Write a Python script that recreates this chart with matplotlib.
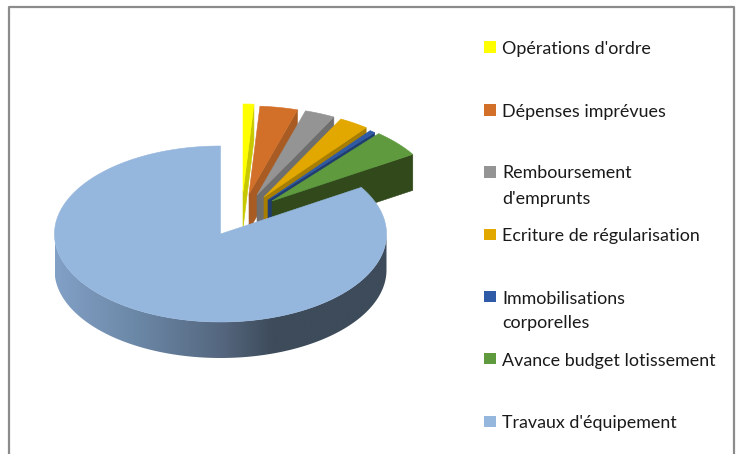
import numpy as np
import matplotlib
matplotlib.use('Agg')
from matplotlib import pyplot as plt
from matplotlib.patches import Polygon, Rectangle
from matplotlib.colors import to_rgb

labels = ["Opérations d'ordre", "Dépenses imprévues", "Remboursement\nd'emprunts",
          "Ecriture de régularisation", "Immobilisations\ncorporelles",
          "Avance budget lotissement", "Travaux d'équipement"]
values = [1.05, 3.67, 2.94, 2.89, 0.56, 5.0, 83.89]

colors = ['#FFFF00', '#D2702A', '#949494', '#E2A800', '#2F5AA5', '#5F9B3E', '#95B6DD']
walls = ['#C8C800', '#A85C24', '#6E6E6E', '#A87E00', '#1F3D70', '#32491C', '#3D4B5A']
# where each slice's point sits once pulled out of the pie (pixels)
apex_x = [243, 249, 257, 264, 268, 272, 220.5]
apex_y = [192, 194, 195, 197, 200, 201, 234]
legend_y = [46.5, 109.5, 171.5, 234, 296, 358, 421]
text_y = [[49], [112], [173, 199], [236], [299, 323], [361], [423]]

rx, ry, depth = 166, 88, 36

fig = plt.figure(figsize=(7.39, 4.54), dpi=100)
ax = fig.add_axes([0, 0, 1, 1])

# frame, open at the bottom
ax.plot([8.5, 8.5, 733.5, 733.5], [454, 6.5, 6.5, 454], color='#8C8C8C', lw=1.6)

edges = np.cumsum([0] + values) / sum(values) * 2 * np.pi


def arc(cx, cy, a, b):
    t = np.linspace(a, b, max(int(np.degrees(b - a)), 2) + 1)
    return cx + rx * np.sin(t), cy - ry * np.cos(t)


# pulled-out slices, back to front
for i in range(6):
    cx, cy = apex_x[i], apex_y[i]
    x, y = arc(cx, cy, edges[i], edges[i + 1])
    wall = [(cx, cy), (x[-1], y[-1]), (x[-1], y[-1] + depth), (cx, cy + depth)]
    ax.add_patch(Polygon(wall, fc=walls[i], ec=walls[i], lw=0.4, zorder=2 + i))
    top = [(cx, cy)] + list(zip(x, y))
    ax.add_patch(Polygon(top, fc=colors[i], ec=colors[i], lw=0.4, zorder=2 + i))

# big slice: outer side shaded left to right, then the top face
cx, cy = apex_x[6], apex_y[6]
xs = np.linspace(cx - rx, cx + rx, 200)
pos = (xs - xs[0]) / (xs[-1] - xs[0])
stops = np.array([to_rgb('#82A0C6'), to_rgb('#6B87A6'), to_rgb('#55677F'), to_rgb(walls[6]), to_rgb(walls[6])])
grad = np.stack([np.interp(pos, [0, 0.25, 0.5, 0.66, 1], stops[:, k]) for k in range(3)], axis=1)[None, :, :]
im = ax.imshow(grad, extent=(cx - rx, cx + rx, cy + ry + depth, cy - ry), aspect='auto', zorder=10)
fx, fy = arc(cx, cy, np.pi / 2, 3 * np.pi / 2)
band = Polygon(list(zip(fx, fy)) + list(zip(fx[::-1], fy[::-1] + depth)), transform=ax.transData,
               fc='none', ec='none')
ax.add_patch(band)
im.set_clip_path(band)
x, y = arc(cx, cy, edges[6], edges[7])
ax.add_patch(Polygon([(cx, cy)] + list(zip(x, y)), fc=colors[6], ec=colors[6], lw=0.4, zorder=11))

# legend
for i, lab in enumerate(labels):
    ax.add_patch(Rectangle((484, legend_y[i] - 5.5), 11.5, 11.5, fc=colors[i], ec='none', zorder=12))
    for line, yy in zip(lab.split('\n'), text_y[i]):
        ax.text(502, yy, line, family='Lato', fontsize=12.9, color='#1A1A1A',
                va='center', ha='left', zorder=12)

ax.set_xlim(0, 739)
ax.set_ylim(454, 0)
ax.axis('off')

fig.savefig('out.png', dpi=100, facecolor='white')
